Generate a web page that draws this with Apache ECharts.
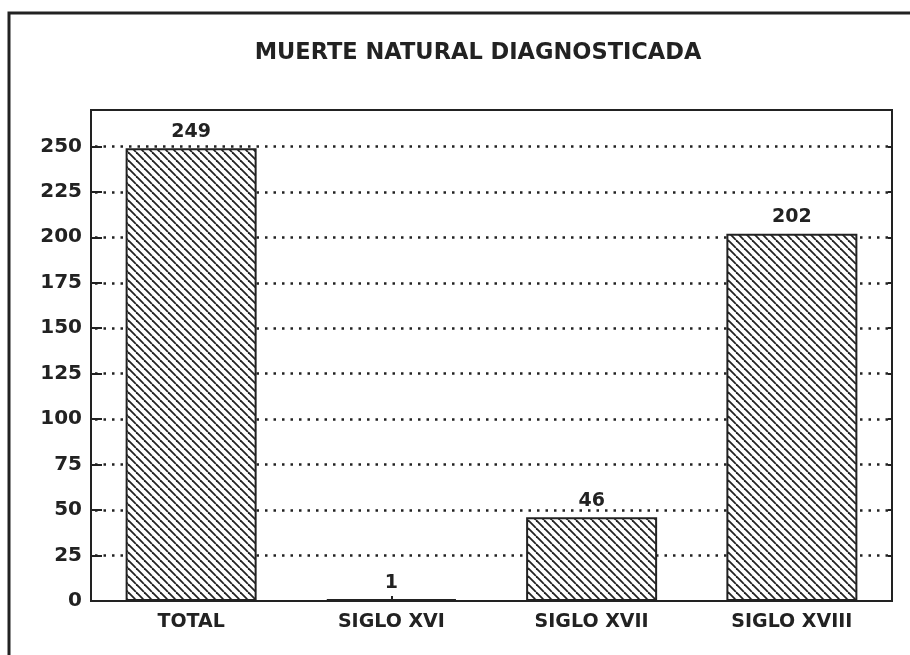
<!DOCTYPE html>
<html>
<head>
<meta charset="utf-8">
<script src="https://cdn.jsdelivr.net/npm/echarts@6/dist/echarts.min.js"></script>
<style>
html,body{margin:0;padding:0;background:#fff;}
#c{width:910px;height:655px;}
</style>
</head>
<body>
<div id="c"></div>
<script>
var titleText = 'MUERTE NATURAL DIAGNOSTICADA';
var categories = ['TOTAL', 'SIGLO XVI', 'SIGLO XVII', 'SIGLO XVIII'];
var values = [249, 1, 46, 202];

var ink = '#222222';
var FONT = '"DejaVu Sans", sans-serif';

// hatch pattern "\\\\"
var s = 8;
var pc = document.createElement('canvas');
pc.width = s; pc.height = s;
var g = pc.getContext('2d');
g.fillStyle = '#fff';
g.fillRect(0, 0, s, s);
g.strokeStyle = ink;
g.lineWidth = 1.8;
for (var k = -1; k <= 1; k++) {
  g.beginPath();
  g.moveTo(k * s, 0);
  g.lineTo(k * s + s, s);
  g.stroke();
}

var chart = echarts.init(document.getElementById('c'));
chart.setOption({
  backgroundColor: '#fff',
  animation: false,
  title: {
    text: titleText,
    left: 473,
    top: 37,
    textAlign: 'center',
    textStyle: { fontFamily: FONT, fontWeight: 'bold', fontSize: 22.5, color: ink }
  },
  graphic: [{
    type: 'rect',
    shape: { x: 9, y: 13, width: 1200, height: 1000 },
    style: { fill: 'none', stroke: ink, lineWidth: 3 },
    silent: true
  }, {
    type: 'rect',
    shape: { x: 91, y: 110, width: 801, height: 491 },
    style: { fill: 'none', stroke: ink, lineWidth: 2 },
    silent: true,
    z: 100
  }],
  grid: {
    left: 91, right: 18, top: 110, bottom: 54,
    show: false
  },
  xAxis: {
    type: 'category',
    data: categories,
    axisLine: { lineStyle: { color: ink, width: 2 } },
    axisTick: { show: true, inside: true, length: 5, alignWithLabel: true, lineStyle: { color: ink, width: 2 } },
    axisLabel: { margin: 12, fontFamily: FONT, fontWeight: 'bold', fontSize: 19, color: ink },
    splitLine: { show: false }
  },
  yAxis: [{
    type: 'value',
    min: 0, max: 270, interval: 25,
    axisLine: { show: true, lineStyle: { color: ink, width: 2 } },
    axisTick: { show: true, inside: true, length: 11, lineStyle: { color: ink, width: 2 } },
    axisLabel: { margin: 9, showMaxLabel: false, fontFamily: FONT, fontWeight: 'bold', fontSize: 20, color: ink,
      formatter: function (v) { return v === 270 ? '' : String(v); } },
    splitLine: { show: true, showMinLine: false, showMaxLine: false,
      lineStyle: { color: ink, width: 2.5, type: [2.5, 6], dashOffset: -4 } }
  }, {
    type: 'value',
    position: 'right',
    min: 0, max: 270, interval: 25,
    axisLine: { show: true, lineStyle: { color: ink, width: 2 } },
    axisTick: { show: true, inside: true, length: 4, lineStyle: { color: ink, width: 2 } },
    axisLabel: { show: false },
    splitLine: { show: false }
  }],
  series: [{
    type: 'bar',
    data: values,
    yAxisIndex: 0,
    barWidth: 131,
    itemStyle: {
      color: { image: pc, repeat: 'repeat' },
      borderColor: ink,
      borderWidth: 2
    },
    label: {
      show: true, position: 'top', distance: 7,
      fontFamily: FONT, fontWeight: 'bold', fontSize: 19, color: ink
    }
  }]
});
</script>
</body>
</html>
